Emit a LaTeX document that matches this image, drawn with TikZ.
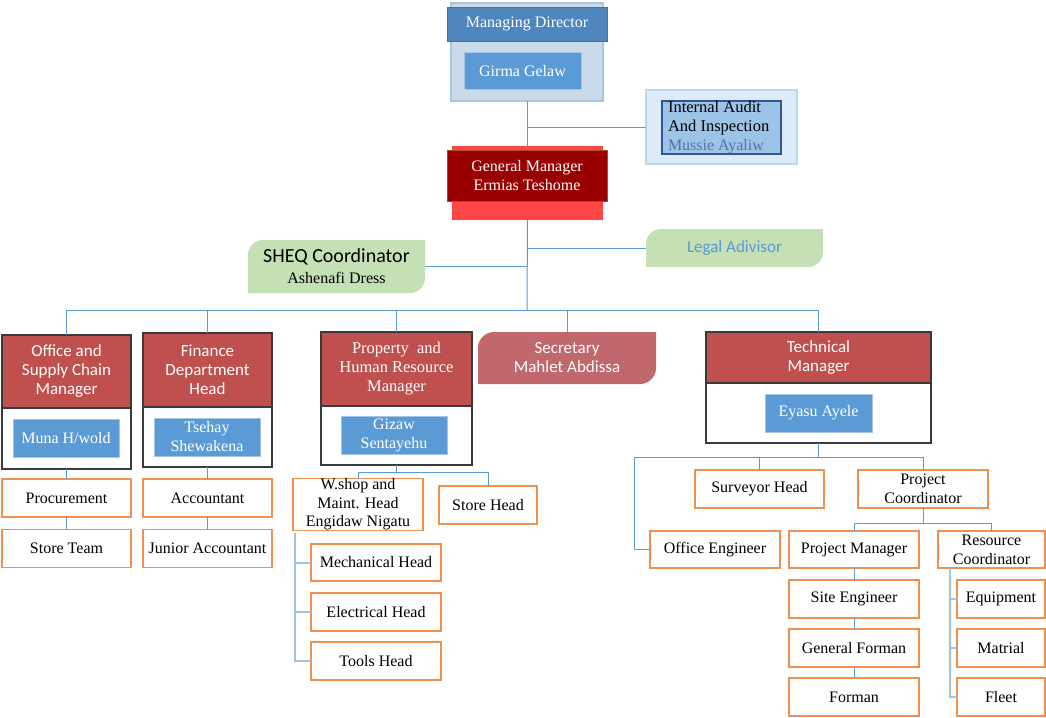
\documentclass[tikz,border=0pt]{standalone}
\usepackage{fontspec}
\setmainfont{Liberation Serif}
\newfontfamily\sansf{Carlito}
\usetikzlibrary{backgrounds}
\definecolor{cLine}{HTML}{5B9BD5}
\definecolor{cLineL}{HTML}{9DC3E6}
\definecolor{cOr}{HTML}{F1904F}
\definecolor{cHead}{HTML}{C0504D}
\definecolor{cDark}{HTML}{3A3A3A}
\definecolor{cName}{HTML}{5B9BD5}
\definecolor{cNameB}{HTML}{A5C5E6}
\definecolor{cMD}{HTML}{4F86BE}
\definecolor{cMDB}{HTML}{41719C}
\definecolor{cMDbg}{HTML}{C9DBEB}
\definecolor{cMDbgB}{HTML}{ADC6E0}
\definecolor{cAudBg}{HTML}{DDEBF7}
\definecolor{cAudBgB}{HTML}{BDD7EE}
\definecolor{cAud}{HTML}{9DC3E6}
\definecolor{cAudB}{HTML}{2F5597}
\definecolor{cMussie}{HTML}{4E74A8}
\definecolor{cGM}{HTML}{990000}
\definecolor{cGMB}{HTML}{B5471A}
\definecolor{cGMbg}{HTML}{FF4646}
\definecolor{cGreen}{HTML}{C5E0B4}
\definecolor{cSec}{HTML}{C0686B}
\newcommand\fSer{\fontsize{16}{19}\selectfont}
\newcommand\fSerL{\fontsize{16.5}{19}\selectfont}
\newcommand\fSan{\sansf\fontsize{17}{19}\selectfont}
\newcommand\roundleaf[3]{\fill[#2] (#1.south west) -- ([yshift=-#3]#1.north west) arc[start angle=180,end angle=90,radius=#3] -- (#1.north east) -- ([yshift=#3]#1.south east) arc[start angle=0,end angle=-90,radius=#3] -- cycle;}
\begin{document}
\begin{tikzpicture}[x=1pt,y=-1pt,
  every node/.style={outer sep=0pt},
  conn/.style={draw=cLine, line width=1pt},
  subconn/.style={draw=cLineL, line width=2pt},
  leaf/.style={draw=cOr, line width=1.3pt, fill=white, inner sep=1pt, minimum width=129, minimum height=38, font=\fSer, align=center},
  unit/.style={draw=cDark, line width=1.5pt, fill=white, inner sep=0pt},
  head/.style={fill=cHead, draw=cDark, line width=1.2pt, text=white, align=center, inner sep=0pt, font=\fSan},
  namebox/.style={fill=cName, draw=cNameB, line width=1pt, text=white, align=center, minimum width=106, minimum height=38, inner sep=0pt, font=\fSer}]
\begin{scope}[on background layer]
\fill[white] (0,0) rectangle (1046,717);
\end{scope}
\useasboundingbox (0,0) rectangle (1046,717);
% Managing director
\node[fill=cMDbg, draw=cMDbgB, line width=1.2pt, minimum width=152, minimum height=98, inner sep=0pt] (mdbg) at (527,52) {};
\node[fill=cMD, draw=cMDB, line width=0.8pt, minimum width=160, minimum height=34, inner sep=0pt, text=white, font=\fSer] (md) at (527,24) {Managing Director};
\node[namebox, minimum width=117, minimum height=36] (girma) at (522.5,71) {Girma Gelaw};
% Internal audit
\node[fill=cAudBg, draw=cAudBgB, line width=1.2pt, minimum width=151, minimum height=74, inner sep=0pt] (auditbg) at (721.5,127) {};
\node[fill=cAud, draw=cAudB, line width=1.2pt, minimum width=119, minimum height=53, inner sep=0pt] (audit) at (721.5,127.5) {};
\node[anchor=west, inner sep=0pt, align=left, font=\fSerL] (audittxt) at (668,127.5) {Internal Audit\\And Inspection\\{\color{cMussie}\fSer Mussie Ayaliw}};
% General manager
\node[fill=cGMbg, minimum width=151, minimum height=74, inner sep=0pt] (gmbg) at (527.5,183) {};
\node[fill=cGM, draw=cGMB, line width=1pt, minimum width=160, minimum height=51, inner sep=0pt, text=white, align=center, font=\fSer] (gm) at (527,175.5) {General Manager\\Ermias Teshome};
% Legal, SHEQ, Secretary
\node[minimum width=177, minimum height=38, inner sep=0pt, text=cLine, font=\fSan] (legal) at (734.5,248) {Legal Adivisor};
\node[minimum width=177, minimum height=53, inner sep=0pt, align=center, font=\fontsize{16}{21}\selectfont] (sheq) at (336.5,266.5) {{\sansf\fontsize{20}{22}\selectfont SHEQ Coordinator}\\{\fSer Ashenafi Dress}};
\node[minimum width=178, minimum height=52, inner sep=0pt, text=white, align=center, font=\fSan] (sec) at (567,358) {Secretary\\Mahlet Abdissa};
% Units
\node[unit, minimum width=129, minimum height=134] (office) at (66.5,402) {};
\node[head, minimum width=129, minimum height=73, anchor=north] (officeh) at (office.north) {Office and\\Supply Chain\\Manager};
\node[namebox] (muna) at (66,438.5) {Muna H/wold};
\node[unit, minimum width=129, minimum height=134] (fin) at (207.5,400) {};
\node[head, minimum width=129, minimum height=74, anchor=north] (finh) at (fin.north) {Finance\\Department\\Head};
\node[namebox] (tsehay) at (207,437) {Tsehay\\Shewakena};
\node[unit, minimum width=151, minimum height=133] (prop) at (396.5,398.5) {};
\node[head, minimum width=151, minimum height=74, anchor=north, font=\fSerL] (proph) at (prop.north) {Property\ \ and\\Human Resource\\Manager};
\node[namebox] (gizaw) at (394,435) {Gizaw\\Sentayehu};
\node[unit, minimum width=225, minimum height=111] (tech) at (818.5,387.5) {};
\node[head, minimum width=225, minimum height=51, anchor=north] (techh) at (tech.north) {Technical\\Manager};
\node[namebox, minimum width=107] (eyasu) at (818.5,413) {Eyasu Ayele};
% Leaves
\node[leaf] (proc) at (66.5,498) {Procurement};
\node[leaf] (steam) at (66.5,548.5) {Store Team};
\node[leaf] (acc) at (207.5,498) {Accountant};
\node[leaf] (jacc) at (207.5,548.5) {Junior Accountant};
\node[leaf, minimum width=130, minimum height=51, inner sep=0pt, font=\fontsize{16}{18.5}\selectfont] (wshop) at (358,504.5) {W.shop and\\Maint. Head\\Engidaw Nigatu};
\node[leaf, minimum width=98] (storeh) at (488,505) {Store Head};
\node[leaf, minimum width=130, minimum height=37] (mech) at (376,562.5) {Mechanical Head};
\node[leaf, minimum width=130] (elec) at (376,612) {Electrical Head};
\node[leaf, minimum width=130] (tools) at (376,661) {Tools Head};
\node[leaf] (surv) at (759.5,489) {Surveyor Head};
\node[leaf, minimum width=130] (pc) at (923,489) {Project\\Coordinator};
\node[leaf, minimum width=130, minimum height=37] (oe) at (715,549.5) {Office Engineer};
\node[leaf, minimum width=130, minimum height=37] (pm) at (854,549.5) {Project Manager};
\node[leaf, minimum width=107, minimum height=37] (rc) at (991.5,549.5) {Resource\\Coordinator};
\node[leaf, minimum width=130] (site) at (854,599) {Site Engineer};
\node[leaf, minimum width=130] (gf) at (854,648) {General Forman};
\node[leaf, minimum width=130] (forman) at (854,697) {Forman};
\node[leaf, minimum width=88] (equip) at (1001,599) {Equipment};
\node[leaf, minimum width=88] (matr) at (1001,648) {Matrial};
\node[leaf, minimum width=88] (fleet) at (1001,697) {Fleet};
% Rounded shapes
\begin{scope}[on background layer]
\roundleaf{legal}{cGreen}{15pt}
\roundleaf{sheq}{cGreen}{15pt}
\roundleaf{sec}{cSec}{16pt}
\end{scope}
% Connectors
\coordinate (bus) at (527,310);
\draw[conn] (mdbg.south) -- (mdbg.south |- gmbg.north);
\draw[conn] (mdbg.south |- auditbg.west) -- (auditbg.west);
\draw[conn] (gmbg.south) -- (bus);
\draw[conn] (gmbg.south |- legal.west) -- (legal.west);
\draw[conn] (sheq.east) -- (gmbg.south |- sheq.east);
\draw[conn] (bus) -| (office.north);
\draw[conn] (bus) -| (fin.north);
\draw[conn] (bus) -| (prop.north);
\draw[conn] (bus) -| (sec.north);
\draw[conn] (bus) -| (tech.north);
\draw[conn] (office.south) -- (proc.north);
\draw[conn] (proc.south) -- (steam.north);
\draw[conn] (fin.south) -- (acc.north);
\draw[conn] (acc.south) -- (jacc.north);
\draw[conn] (prop.south) -- ++(0,7) -| (wshop.north);
\draw[conn] (prop.south) -- ++(0,7) -| (storeh.north);
\draw[subconn] ([xshift=2pt,yshift=-3pt]wshop.south west) |- (mech.west);
\draw[subconn] ([xshift=2pt,yshift=-3pt]wshop.south west) |- (elec.west);
\draw[subconn] ([xshift=2pt,yshift=-3pt]wshop.south west) |- (tools.west);
\coordinate (tbus) at (818.5,457);
\draw[conn] (tech.south) -- (tbus) -| (surv.north);
\draw[conn] (tbus) -| (pc.north);
\draw[conn] (tbus) -| ([xshift=-16pt]oe.west) -- (oe.west);
\draw[conn] (pc.south) -- ++(0,15) -| (pm.north);
\draw[conn] (pc.south) -- ++(0,15) -| (rc.north);
\draw[conn] (pm.south) -- (site.north);
\draw[conn] (site.south) -- (gf.north);
\draw[conn] (gf.south) -- (forman.north);
\draw[subconn] ([xshift=12pt]rc.south west) |- (equip.west);
\draw[subconn] ([xshift=12pt]rc.south west) |- (matr.west);
\draw[subconn] ([xshift=12pt]rc.south west) |- (fleet.west);
\end{tikzpicture}
\end{document}
